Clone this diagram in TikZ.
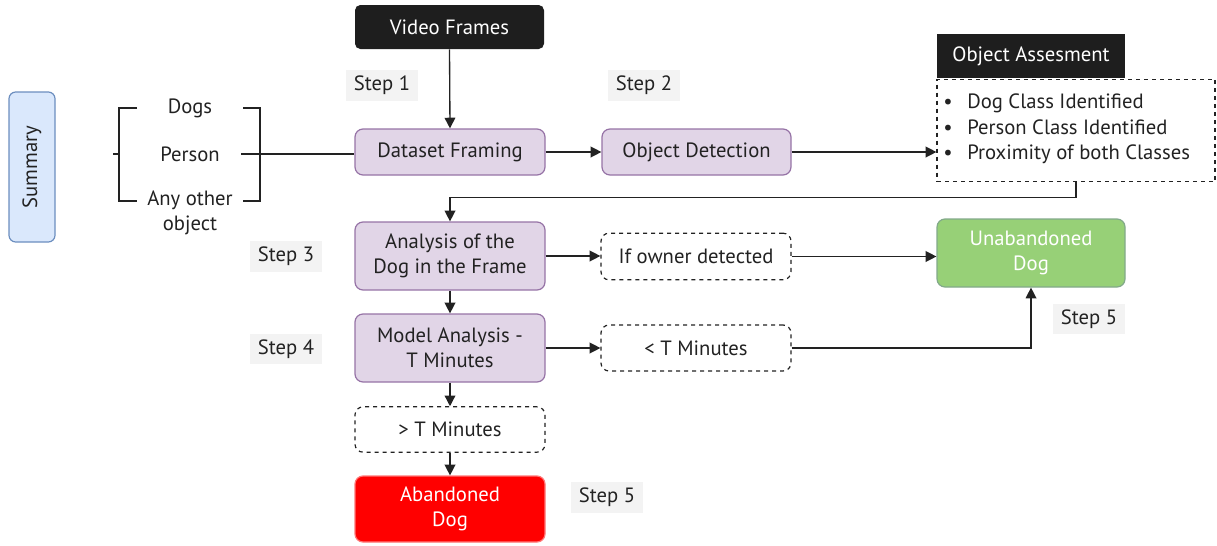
\documentclass[tikz,border=0pt]{standalone}
\usepackage{fontspec}
\setmainfont{PT Sans}
\usetikzlibrary{arrows.meta}
\definecolor{blk}{HTML}{1E1E1E}
\definecolor{purfill}{HTML}{E1D5E7}
\definecolor{purdraw}{HTML}{9673A6}
\definecolor{grnfill}{HTML}{97D077}
\definecolor{grndraw}{HTML}{82A98A}
\definecolor{bluefill}{HTML}{DAE8FC}
\definecolor{bluedraw}{HTML}{6C8EBF}
\definecolor{redfill}{HTML}{FF0000}
\definecolor{reddraw}{HTML}{FF7777}
\definecolor{stepfill}{HTML}{F3F3F3}
\definecolor{txt}{HTML}{222222}
\tikzset{
  base/.style={inner sep=0pt, align=center, font=\fontsize{15.5}{19}\selectfont, text=txt},
  blackbox/.style={base, fill=blk, text=white, rounded corners=4pt},
  purplebox/.style={base, fill=purfill, draw=purdraw, line width=0.9pt, rounded corners=6pt},
  dashbox/.style={base, draw=txt, dashed, line width=0.9pt, rounded corners=6pt},
  steplabel/.style={base, fill=stepfill, minimum width=54pt, minimum height=23pt},
  conn/.style={draw=txt, line width=1pt, -{Triangle[length=8pt,width=8pt]}},
  plain/.style={draw=txt, line width=1pt},
}
\begin{document}
\begin{tikzpicture}[x=0.75pt,y=-0.75pt]
\useasboundingbox (0,0) rectangle (1217,546);
% nodes
\node[blackbox, minimum width=141.75pt, minimum height=33pt] (vf) at (449.5,27) {Video Frames};
\node[steplabel] (s1) at (382,85.5) {Step 1};
\node[steplabel] (s2) at (644,85.5) {Step 2};
\node[purplebox, minimum width=142.5pt, minimum height=34.5pt] (df) at (450,152) {Dataset Framing};
\node[purplebox, minimum width=141.75pt, minimum height=34.5pt] (od) at (696.5,152) {Object Detection};
\node[blackbox, rounded corners=0pt, minimum width=141pt, minimum height=33pt] (oah) at (1031,56) {Object Assesment};
\node[dashbox, rounded corners=0pt, minimum width=208.5pt, minimum height=77pt] (oab) at (1076,130.5) {};
\node[base, anchor=west, align=left, font=\fontsize{15.5}{19.2}\selectfont] (oat) at (943,129)
  {\textbullet\hspace{11pt}Dog Class Identified\\\textbullet\hspace{11pt}Person Class Identified\\\textbullet\hspace{11pt}Proximity of both Classes};
\node[purplebox, minimum width=142.5pt, minimum height=51pt] (an) at (450,256) {Analysis of the\\Dog in the Frame};
\node[steplabel] (s3) at (286,256.5) {Step 3};
\node[dashbox, minimum width=142.5pt, minimum height=35pt] (ifo) at (696,256.5) {If owner detected};
\node[base, fill=grnfill, draw=grndraw, line width=0.9pt, rounded corners=6pt, text=white, minimum width=141pt, minimum height=51pt] (ud) at (1031,253) {Unabandoned\\Dog};
\node[steplabel] (s5a) at (1089,319) {Step 5};
\node[purplebox, minimum width=142.5pt, minimum height=51pt] (ma) at (450,348) {Model Analysis -\\T Minutes};
\node[steplabel] (s4) at (286,349) {Step 4};
\node[dashbox, minimum width=142.5pt, minimum height=34.5pt] (lt) at (696,348) {< T Minutes};
\node[dashbox, minimum width=142.5pt, minimum height=34pt] (gt) at (450,429.5) {> T Minutes};
\node[base, fill=redfill, draw=reddraw, line width=0.9pt, rounded corners=6pt, text=white, minimum width=142.5pt, minimum height=49.5pt] (ab) at (450,509) {Abandoned\\Dog};
\node[steplabel] (s5b) at (607,497.5) {Step 5};
\node[base, fill=bluefill, draw=bluedraw, line width=0.9pt, rounded corners=5pt, minimum width=34.5pt, minimum height=112.5pt] (sum) at (32,167) {};
\node[base, rotate=90] (sumt) at (32,167) {Summary};
% summary bracket
\node[base] (dogs) at (190,108) {Dogs};
\node[base] (person) at (190,154) {Person};
\node[base] (other) at (190,213) {Any other\\object};
\coordinate (lt1) at (137,108);
\coordinate (lc) at (119,108);
\coordinate (lb) at (119,201);
\coordinate (lb1) at (137,201);
\coordinate (lm) at (113,154);
\coordinate (lm2) at (119,154);
\coordinate (rt1) at (243,108);
\coordinate (rc) at (260,108);
\coordinate (rb) at (260,201);
\coordinate (rb1) at (243,201);
\coordinate (pm) at (241,154);
\draw[plain] (lt1) -- (lc) -- (lb) -- (lb1);
\draw[plain] (lm) -- (lm2);
\draw[plain] (rt1) -- (rc) -- (rb) -- (rb1);
\draw[plain] (pm) -- (pm -| df.west);
% connectors
\draw[conn] (vf.south) -- (df.north);
\draw[conn] (df.east) -- (od.west);
\draw[conn] (od.east) -- (od.east -| oab.west);
\draw[conn] (oab.south) -- ++(0,15) -| (an.north);
\draw[conn] (an.east) -- (an.east -| ifo.west);
\draw[conn] (ifo.east) -- (ifo.east -| ud.west);
\draw[conn] (an.south) -- (ma.north);
\draw[conn] (ma.east) -- (ma.east -| lt.west);
\draw[conn] (lt.east) -| (ud.south);
\draw[conn] (ma.south) -- (gt.north);
\draw[conn] (gt.south) -- (ab.north);
\end{tikzpicture}
\end{document}
